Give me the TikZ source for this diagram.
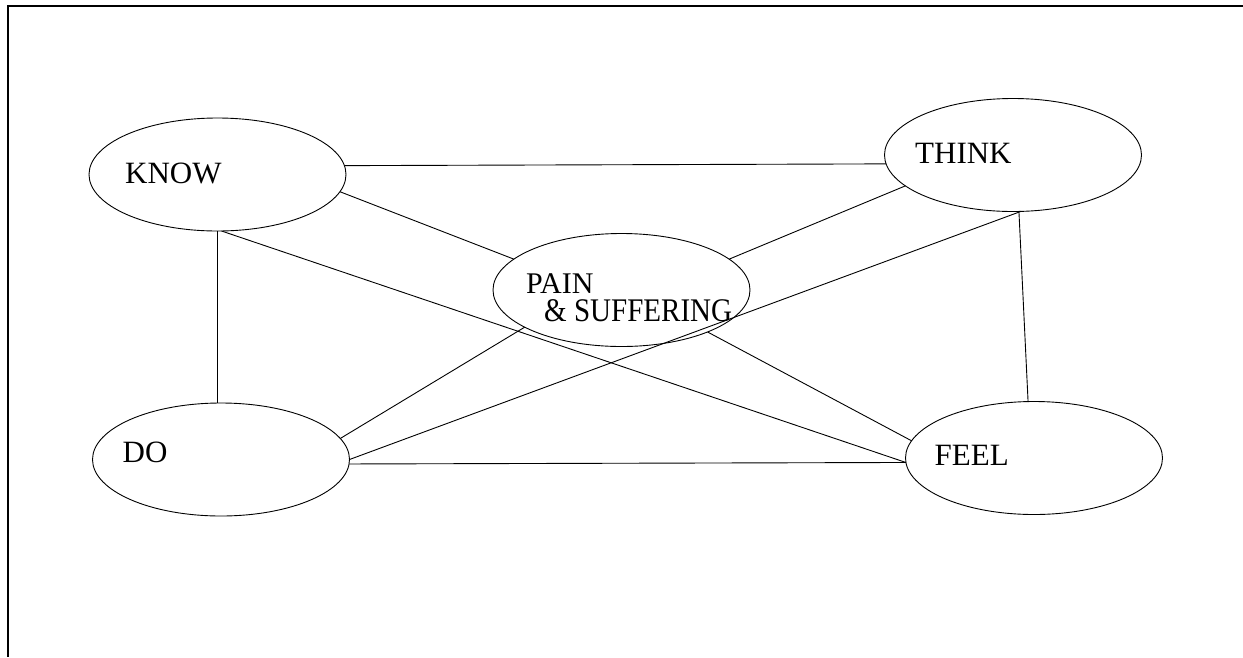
\documentclass[tikz,border=0pt]{standalone}
\usepackage{fontspec}
\setmainfont{Liberation Serif}
\usetikzlibrary{shapes.geometric}
\begin{document}
\begin{tikzpicture}[x=1pt,y=-1pt,
  bubble/.style={draw, ellipse, minimum width=257pt, minimum height=113pt, inner sep=0pt, outer sep=0pt, line width=0.9pt},
  word/.style={anchor=base west, inner sep=0pt, font=\fontsize{31}{31}\selectfont},
  link/.style={line width=0.9pt}]
\useasboundingbox (0,0) rectangle (1243,657);
\draw[line width=1.6pt] (1243,6) -- (8,6) -- (8,657);
% ellipses
\node[bubble] (know)  at (217.5,174.5) {};
\node[bubble] (think) at (1013,155) {};
\node[bubble] (pain)  at (621.5,290) {};
\node[bubble] (do)    at (221,459.5) {};
\node[bubble] (feel)  at (1034,458) {};
% labels
\node[word] (tknow)  at (125,183) {KNOW};
\node[word] (tthink) at (915,163.5) {THINK};
\node[word, text depth=0pt, font=\fontsize{30}{30}\selectfont] (tpain) at (526,293) {PAIN};
\node[word, text height=20pt, font=\fontsize{33}{33}\selectfont] (tsuff) at (544,321) {\scalebox{0.88}[1]{\& SUFFERING}};
\node[word] (tdo)    at (122.5,462.7) {DO};
\node[word] (tfeel)  at (934.5,465) {FEEL};
% connectors
\draw[link] (know.4) -- (think.184);
\draw[link] (know.-8.9) -- (pain.164.2);
\draw[link] (know.south) -- (know.south |- do.north);
\draw[link] (know.-86) -- (feel.-178);
\draw[link] (think.196.6) -- (pain.16.1);
\draw[link] (think.-84.8) -- (feel.96.4);
\draw[link] (think.-82) -- (do.-0.5);
\draw[link] (pain.201.7) -- (do.10);
\draw[link] (pain.-26.5) -- (feel.172.5);
\draw[link] (do.-2) -- (feel.182.7);
\end{tikzpicture}
\end{document}
